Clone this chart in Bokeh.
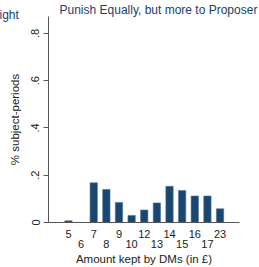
from bokeh.plotting import figure
from bokeh.models import ColumnDataSource, FixedTicker, Range1d, LinearAxis, Title
from bokeh.embed import file_html
from bokeh.resources import INLINE

# data
categories = ["5", "6", "7", "8", "9", "10", "12", "13", "14", "15", "16", "17", "23"]
shares = [0.007, 0.0, 0.168, 0.14, 0.085, 0.03, 0.053, 0.083, 0.153, 0.135, 0.112, 0.112, 0.058]
y_ticks = [0, 0.2, 0.4, 0.6, 0.8]
y_tick_labels = ["0", ".2", ".4", ".6", ".8"]
title_text = "Punish Equally, but more to Proposer"
prev_title_text = "ight"
x_title = "Amount kept by DMs (in £)"
y_title = "% subject-periods"

FONT = "Liberation Sans"
BAR = "#1a476f"
AXIS = "#555555"
TXT = "#222222"
TITLE_C = "#1e3d66"

idx = list(range(len(categories)))
upper = [i for i in idx if i % 2 == 0]
lower = [i for i in idx if i % 2 == 1]

p = figure(width=259, height=267, output_backend="svg", toolbar_location=None,
           x_range=Range1d(-1.58, 13.54), y_range=Range1d(0, 0.8716),
           min_border_left=48, min_border_right=20, min_border_top=16, min_border_bottom=44,
           x_axis_location=None)
p.outline_line_color = None
p.grid.visible = False

p.title.text = title_text
p.title.align = "left"
p.title.offset = 11
p.title.standoff = -2
p.title.text_font = FONT
p.title.text_font_style = "normal"
p.title.text_font_size = "12px"
p.title.text_color = TITLE_C

prev = Title(text=prev_title_text, align="left", offset=-49, standoff=-15,
             vertical_align="top",
             text_font=FONT, text_font_style="normal", text_font_size="12px",
             text_color=TITLE_C)
p.add_layout(prev, "above")

src = ColumnDataSource(dict(x=idx, top=shares))
p.vbar(x="x", top="top", bottom=0, width=0.58, source=src,
       fill_color=BAR, line_color="#4d739a", line_width=0.6)

# y axis
ya = p.yaxis[0]
ya.ticker = FixedTicker(ticks=y_ticks)
ya.major_label_overrides = {t: l for t, l in zip(y_ticks, y_tick_labels)}
ya.major_label_orientation = "vertical"
ya.major_tick_out = 5
ya.major_tick_in = 0
ya.minor_tick_out = 0
ya.minor_tick_in = 0
ya.axis_line_color = AXIS
ya.major_tick_line_color = AXIS
ya.major_label_text_font = FONT
ya.major_label_text_font_size = "11px"
ya.major_label_text_color = TXT
ya.major_label_standoff = 4
ya.axis_label = y_title
ya.axis_label_text_font = FONT
ya.axis_label_text_font_style = "normal"
ya.axis_label_text_font_size = "11.5px"
ya.axis_label_text_color = TXT
ya.axis_label_standoff = 8

# x axes: two staggered rows of category labels
def style_x(ax, ticks):
    ax.ticker = FixedTicker(ticks=ticks)
    ax.major_label_overrides = {i: categories[i] for i in ticks}
    ax.major_tick_out = 0
    ax.major_tick_in = 0
    ax.minor_tick_out = 0
    ax.minor_tick_in = 0
    ax.major_label_text_font = FONT
    ax.major_label_text_font_size = "11px"
    ax.major_label_text_color = TXT

xa1 = LinearAxis()
style_x(xa1, upper)
xa1.axis_line_color = AXIS
xa1.major_label_standoff = 7
p.add_layout(xa1, "below")

xa2 = LinearAxis()
style_x(xa2, lower)
xa2.axis_line_color = None
xa2.major_label_standoff = -1
xa2.axis_label = x_title
xa2.axis_label_text_font = FONT
xa2.axis_label_text_font_style = "normal"
xa2.axis_label_text_font_size = "11.5px"
xa2.axis_label_text_color = TXT
xa2.axis_label_standoff = 2
p.add_layout(xa2, "below")

open("out.html", "w").write(file_html(p, INLINE))
